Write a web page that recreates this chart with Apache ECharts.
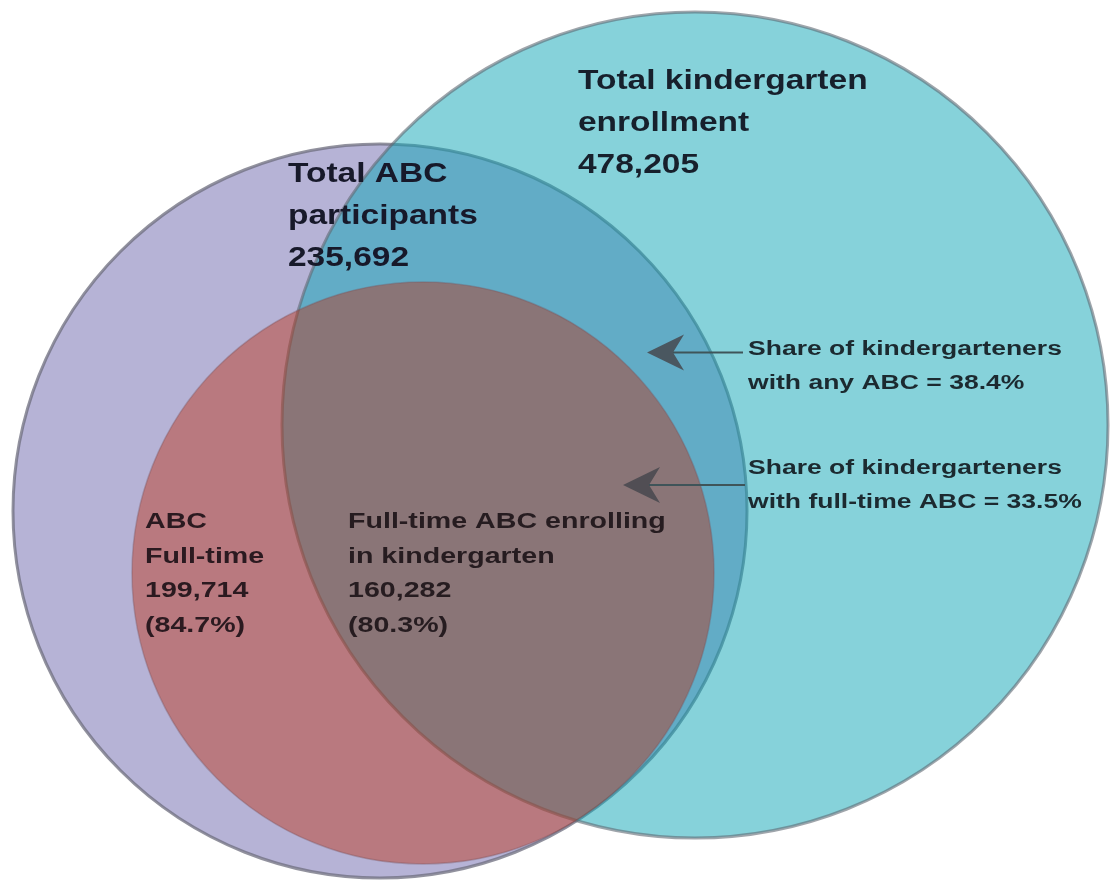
<!DOCTYPE html>
<html>
<head>
<meta charset="utf-8">
<script src="https://cdn.jsdelivr.net/npm/echarts@6/dist/echarts.min.js"></script>
<style>
  html, body { margin: 0; padding: 0; background: #ffffff; }
  #chart { width: 1112px; height: 881px; }
</style>
</head>
<body>
<div id="chart"></div>
<script>
// ---- Values ----
const setLabelLines = [
  ['Total kindergarten', 'enrollment'],
  ['Total ABC', 'participants'],
  ['ABC', 'Full-time']
];
const setCounts = [478205, 235692, 199714];
const fullTimeShare = 84.7;

const overlapLabelLines = ['Full-time ABC enrolling', 'in kindergarten'];
const overlapCount = 160282;
const overlapShare = 80.3;

const shareLabelLines = [
  ['Share of kindergarteners', 'with any ABC'],
  ['Share of kindergarteners', 'with full-time ABC']
];
const shareValues = [38.4, 33.5];

// ---- Layout (plot units, 10 px per unit; y grows downward) ----
const circleLayout = [
  { cx: 69.5, cy: 42.5, r: 41.3 },   // kindergarten enrollment
  { cx: 38.0, cy: 51.1, r: 36.7 },   // ABC participants
  { cx: 42.3, cy: 57.3, r: 29.1 }    // full-time ABC
];
const drawOrder = [1, 0, 2];
const circleStyles = [
  { fill: 'rgba(13,165,181,0.5)', stroke: 'rgba(95,105,115,0.6)', width: 3 },
  { fill: '#b6b3d6', stroke: 'rgba(110,110,125,0.75)', width: 3 },
  { fill: 'rgba(189,52,23,0.45)', stroke: 'rgba(120,80,90,0.35)', width: 1.5 }
];

const arrowLayout = [
  { tipX: 64.7, y: 35.25, endX: 74.3 },
  { tipX: 62.3, y: 48.5, endX: 74.5 }
];

const FONT = '"Liberation Sans", Arial, Helvetica, sans-serif';
const textBlocks = [
  { x: 57.8, y: 8.2,  pitch: 4.2,  size: 27,   scaleX: 1.24, weight: 'bold', color: '#17202c' },
  { x: 28.8, y: 17.5, pitch: 4.2,  size: 27,   scaleX: 1.24, weight: 'bold', color: '#17192a' },
  { x: 14.5, y: 52.2, pitch: 3.45, size: 22,   scaleX: 1.30, weight: 'bold', color: '#2b1a20' },
  { x: 34.8, y: 52.2, pitch: 3.45, size: 22,   scaleX: 1.30, weight: 'bold', color: '#261c20' },
  { x: 74.8, y: 35.0, pitch: 3.4,  size: 19.5, scaleX: 1.36, weight: 'bold', color: '#1c2a30' },
  { x: 74.8, y: 46.85, pitch: 3.4, size: 19.5, scaleX: 1.36, weight: 'bold', color: '#1c2a30' }
];

const fmt = v => v.toLocaleString('en-US');

const labelTexts = [
  setLabelLines[0].concat([fmt(setCounts[0])]),
  setLabelLines[1].concat([fmt(setCounts[1])]),
  setLabelLines[2].concat([fmt(setCounts[2]), '(' + fullTimeShare + '%)']),
  overlapLabelLines.concat([fmt(overlapCount), '(' + overlapShare + '%)']),
  [shareLabelLines[0][0], shareLabelLines[0][1] + ' = ' + shareValues[0] + '%'],
  [shareLabelLines[1][0], shareLabelLines[1][1] + ' = ' + shareValues[1] + '%']
];

const chart = echarts.init(document.getElementById('chart'), null, { renderer: 'canvas' });

chart.setOption({
  animation: false,
  backgroundColor: '#ffffff',
  grid: { left: 0, right: 0, top: 0, bottom: 0 },
  xAxis: { type: 'value', min: 0, max: 111.2, show: false },
  yAxis: { type: 'value', min: 0, max: 88.1, inverse: true, show: false },
  series: [
    {
      type: 'custom',
      name: 'sets',
      z: 1,
      silent: true,
      data: drawOrder.map(i => [circleLayout[i].cx, circleLayout[i].cy, circleLayout[i].r, i]),
      renderItem: function (params, api) {
        const c = api.coord([api.value(0), api.value(1)]);
        const r = api.size([api.value(2), 0])[0];
        const st = circleStyles[api.value(3)];
        return {
          type: 'circle',
          shape: { cx: c[0], cy: c[1], r: r },
          style: { fill: st.fill, stroke: st.stroke, lineWidth: st.width }
        };
      }
    },
    {
      type: 'custom',
      name: 'arrows',
      z: 2,
      silent: true,
      data: arrowLayout.map((a, i) => [a.tipX, a.y, a.endX, i]),
      renderItem: function (params, api) {
        const tip = api.coord([api.value(0), api.value(1)]);
        const end = api.coord([api.value(2), api.value(1)]);
        const len = 37, half = 18, notch = 11;
        return {
          type: 'group',
          children: [
            {
              type: 'line',
              shape: { x1: tip[0] + len - notch, y1: tip[1], x2: end[0], y2: end[1] },
              style: { stroke: '#3f5459', lineWidth: 2 }
            },
            {
              type: 'polygon',
              shape: {
                points: [
                  [tip[0], tip[1]],
                  [tip[0] + len, tip[1] - half],
                  [tip[0] + len - notch, tip[1]],
                  [tip[0] + len, tip[1] + half]
                ]
              },
              style: { fill: 'rgba(70,72,78,0.85)' }
            }
          ]
        };
      }
    },
    {
      type: 'custom',
      name: 'labels',
      z: 3,
      silent: true,
      data: textBlocks.map((b, i) => [b.x, b.y, i]),
      renderItem: function (params, api) {
        const idx = api.value(2);
        const b = textBlocks[idx];
        const lines = labelTexts[idx];
        return {
          type: 'group',
          children: lines.map((t, k) => {
            const p = api.coord([b.x, b.y + k * b.pitch]);
            return {
              type: 'text',
              x: p[0],
              y: p[1],
              scaleX: b.scaleX,
              style: {
                text: t,
                fill: b.color,
                fontSize: b.size,
                fontWeight: b.weight,
                fontFamily: FONT,
                align: 'left',
                verticalAlign: 'middle'
              }
            };
          })
        };
      }
    }
  ]
});
</script>
</body>
</html>
